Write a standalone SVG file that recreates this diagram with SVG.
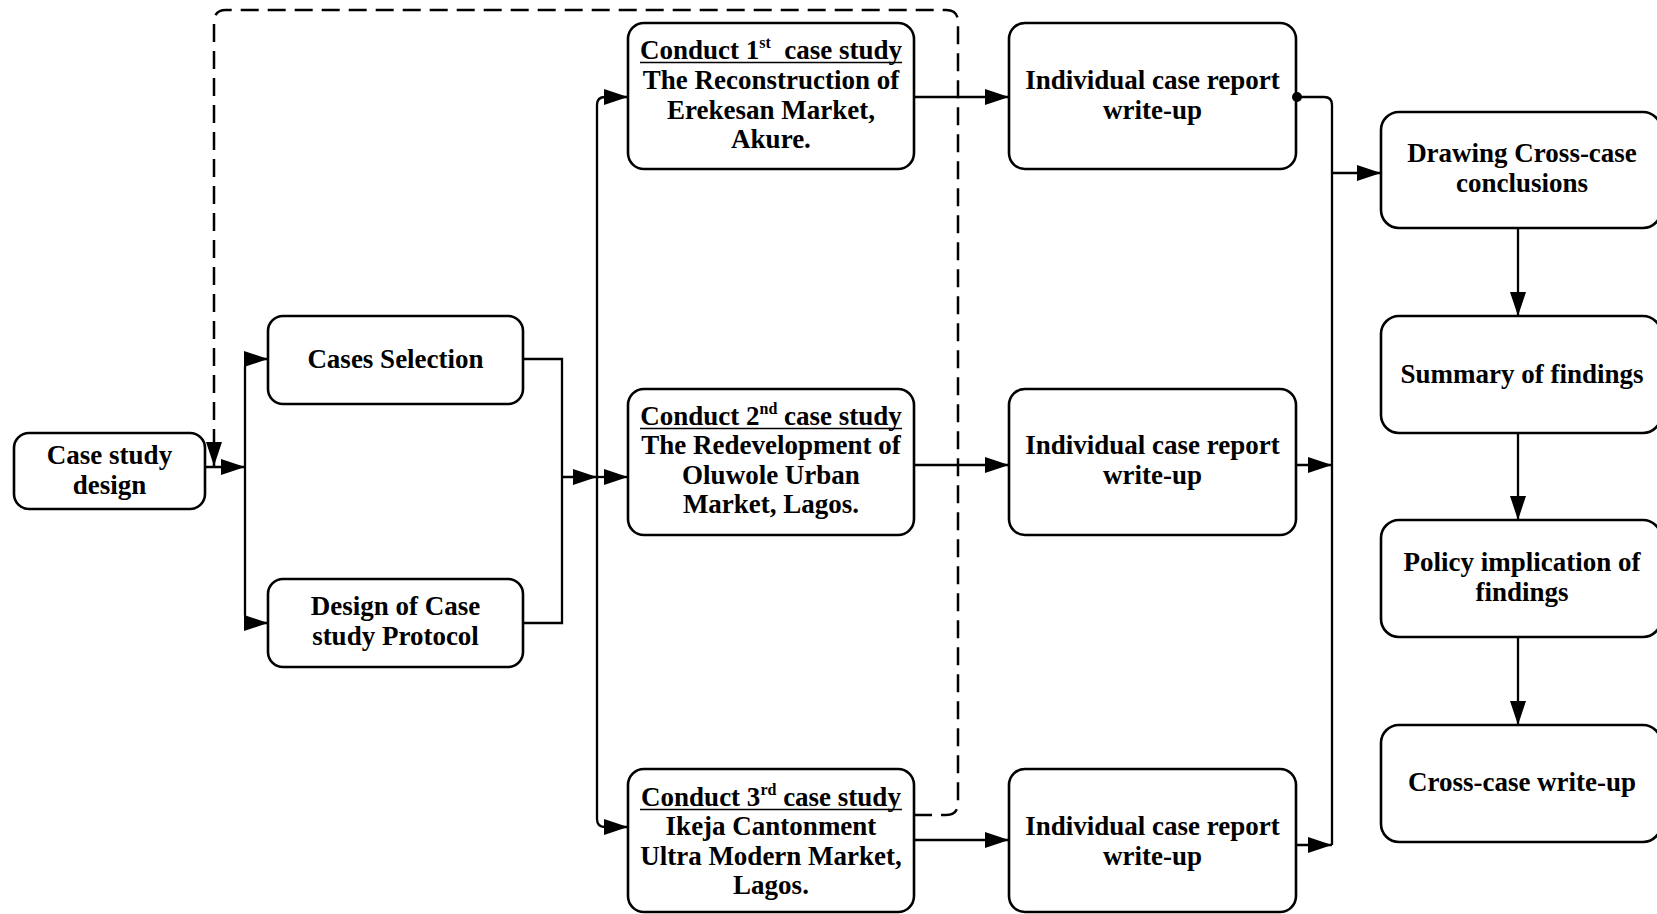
<svg xmlns="http://www.w3.org/2000/svg" width="1657" height="914" viewBox="0 0 1657 914">
  <style>
    .box { fill: #fff; stroke: #000; stroke-width: 2.6; }
    .lbl { font-family: "Liberation Serif", "Times New Roman", serif; font-weight: bold; font-size: 27px; fill: #000; text-anchor: middle; white-space: pre; }
    .sup { font-size: 16px; }
    .wire { fill: none; stroke: #000; stroke-width: 2.3; }
    .arr { marker-end: url(#head); }
    .dash { fill: none; stroke: #000; stroke-width: 2.5; stroke-dasharray: 18 9; }
  </style>
  <defs>
    <marker id="head" markerUnits="userSpaceOnUse" markerWidth="26" markerHeight="18" refX="24" refY="8" orient="auto">
      <path d="M0,0 L24,8 L0,16 z" fill="#000"/>
    </marker>
  </defs>
  <rect width="1657" height="914" fill="#fff"/>

  <g id="case-study-design">
    <rect class="box" x="14" y="433" width="191" height="76" rx="15"/>
    <text class="lbl" x="109.5" y="464">Case study</text>
    <text class="lbl" x="109.5" y="494">design</text>
  </g>

  <g id="cases-selection">
    <rect class="box" x="268" y="316" width="255" height="88" rx="15"/>
    <text class="lbl" x="395.5" y="368">Cases Selection</text>
  </g>

  <g id="protocol-design">
    <rect class="box" x="268" y="579" width="255" height="88" rx="15"/>
    <text class="lbl" x="395.5" y="615">Design of Case</text>
    <text class="lbl" x="395.5" y="645">study Protocol</text>
  </g>

  <g id="case-study-1">
    <rect class="box" x="628" y="23" width="286" height="146" rx="16"/>
    <text class="lbl" x="771" y="59">Conduct 1<tspan class="sup" dy="-11">st</tspan><tspan dy="11">  case study</tspan></text>
    <line x1="640" y1="62.5" x2="902" y2="62.5" stroke="#000" stroke-width="1.6"/>
    <text class="lbl" x="771" y="89">The Reconstruction of</text>
    <text class="lbl" x="771" y="119">Erekesan Market,</text>
    <text class="lbl" x="771" y="148">Akure.</text>
  </g>

  <g id="case-study-2">
    <rect class="box" x="628" y="389" width="286" height="146" rx="16"/>
    <text class="lbl" x="771" y="425">Conduct 2<tspan class="sup" dy="-11">nd</tspan><tspan dy="11"> case study</tspan></text>
    <line x1="640" y1="428.5" x2="902" y2="428.5" stroke="#000" stroke-width="1.6"/>
    <text class="lbl" x="771" y="454">The Redevelopment of</text>
    <text class="lbl" x="771" y="484">Oluwole Urban</text>
    <text class="lbl" x="771" y="513">Market, Lagos.</text>
  </g>

  <g id="case-study-3">
    <rect class="box" x="628" y="769" width="286" height="143" rx="16"/>
    <text class="lbl" x="771" y="806">Conduct 3<tspan class="sup" dy="-11">rd</tspan><tspan dy="11"> case study</tspan></text>
    <line x1="640" y1="809.5" x2="902" y2="809.5" stroke="#000" stroke-width="1.6"/>
    <text class="lbl" x="771" y="835">Ikeja Cantonment</text>
    <text class="lbl" x="771" y="865">Ultra Modern Market,</text>
    <text class="lbl" x="771" y="894">Lagos.</text>
  </g>

  <g id="report-1">
    <rect class="box" x="1009" y="23" width="287" height="146" rx="16"/>
    <text class="lbl" x="1152.5" y="89">Individual case report</text>
    <text class="lbl" x="1152.5" y="119">write-up</text>
  </g>

  <g id="report-2">
    <rect class="box" x="1009" y="389" width="287" height="146" rx="16"/>
    <text class="lbl" x="1152.5" y="454">Individual case report</text>
    <text class="lbl" x="1152.5" y="484">write-up</text>
  </g>

  <g id="report-3">
    <rect class="box" x="1009" y="769" width="287" height="143" rx="16"/>
    <text class="lbl" x="1152.5" y="835">Individual case report</text>
    <text class="lbl" x="1152.5" y="865">write-up</text>
  </g>

  <g id="cross-case-conclusions">
    <rect class="box" x="1381" y="112" width="280" height="116" rx="18"/>
    <text class="lbl" x="1522" y="162">Drawing Cross-case</text>
    <text class="lbl" x="1522" y="192">conclusions</text>
  </g>

  <g id="summary-of-findings">
    <rect class="box" x="1381" y="316" width="280" height="117" rx="18"/>
    <text class="lbl" x="1522" y="383">Summary of findings</text>
  </g>

  <g id="policy-implication">
    <rect class="box" x="1381" y="520" width="280" height="117" rx="18"/>
    <text class="lbl" x="1522" y="571">Policy implication of</text>
    <text class="lbl" x="1522" y="601">findings</text>
  </g>

  <g id="cross-case-writeup">
    <rect class="box" x="1381" y="725" width="280" height="117" rx="18"/>
    <text class="lbl" x="1522" y="791">Cross-case write-up</text>
  </g>

  <!-- connectors, drawn over the box outlines -->
  <g id="connectors">
    <!-- feedback loop (dashed) -->
    <path class="dash arr" d="M914,815 H946 Q958,815 958,803 V22 Q958,10 946,10 H226 Q214,10 214,22 V466"/>
    <!-- design -> split -->
    <path class="wire arr" d="M205,467 H245"/>
    <path class="wire arr" d="M245,367 Q245,359 253,359 H268"/>
    <path class="wire" d="M245,367 V615"/>
    <path class="wire arr" d="M245,615 Q245,623 253,623 H268"/>
    <!-- merge -->
    <path class="wire" d="M523,359 H562 V623 H523"/>
    <path class="wire arr" d="M562,477 H597"/>
    <path class="wire arr" d="M597,477 H628"/>
    <!-- distribution bus -->
    <path class="wire" d="M597,105 V819"/>
    <path class="wire arr" d="M597,105 Q597,97 605,97 H628"/>
    <path class="wire arr" d="M597,819 Q597,827 605,827 H628"/>
    <!-- case study -> report -->
    <path class="wire arr" d="M914,97 H1009"/>
    <path class="wire arr" d="M914,465 H1009"/>
    <path class="wire arr" d="M914,840 H1009"/>
    <!-- reports -> cross-case -->
    <circle cx="1297" cy="97" r="5" fill="#000"/>
    <path class="wire" d="M1297,97 H1324 Q1332,97 1332,105 V845"/>
    <path class="wire arr" d="M1296,465 H1332"/>
    <path class="wire arr" d="M1296,845 H1332"/>
    <path class="wire arr" d="M1332,173 H1381"/>
    <!-- right column chain -->
    <path class="wire arr" d="M1518,228 V316"/>
    <path class="wire arr" d="M1518,433 V520"/>
    <path class="wire arr" d="M1518,637 V725"/>
  </g>
</svg>
